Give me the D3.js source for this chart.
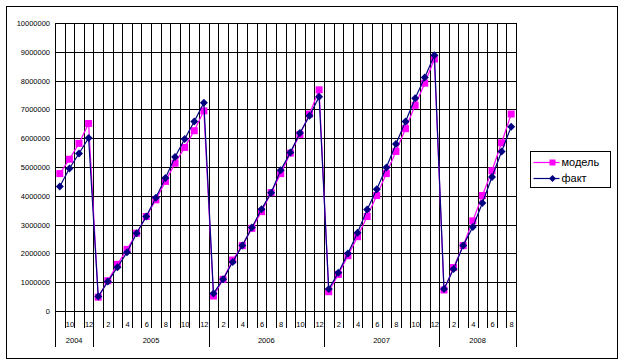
<!DOCTYPE html>
<meta charset="utf-8">
<script src="https://d3js.org/d3.v7.min.js"></script>
<style>
  body { margin: 0; background: #fff; }
  text { font-family: "Liberation Sans", Arial, sans-serif; }
</style>
<div id="chart"></div>
<script>
  // months of each category (Sep 2004 .. Aug 2008)
  var months = [9, 10, 11, 12,
    1, 2, 3, 4, 5, 6, 7, 8, 9, 10, 11, 12,
    1, 2, 3, 4, 5, 6, 7, 8, 9, 10, 11, 12,
    1, 2, 3, 4, 5, 6, 7, 8, 9, 10, 11, 12,
    1, 2, 3, 4, 5, 6, 7, 8];
  var years = ["2004", "2005", "2006", "2007", "2008"];
  var yearLengths = [4, 12, 12, 12, 8];

  var model = [4770000, 5270000, 5820000, 6510000,
    480000, 1050000, 1620000, 2140000, 2700000, 3280000, 3860000, 4500000, 5130000, 5680000, 6260000, 6950000,
    520000, 1100000, 1770000, 2270000, 2870000, 3450000, 4110000, 4770000, 5480000, 6130000, 6840000, 7680000,
    670000, 1270000, 1920000, 2580000, 3280000, 4010000, 4770000, 5540000, 6330000, 7140000, 7910000, 8750000,
    730000, 1510000, 2270000, 3130000, 4010000, 4870000, 5840000, 6840000];

  var fact = [4320000, 4950000, 5470000, 6010000,
    500000, 1020000, 1520000, 2040000, 2700000, 3280000, 3930000, 4620000, 5350000, 5970000, 6580000, 7230000,
    610000, 1100000, 1700000, 2270000, 2900000, 3530000, 4110000, 4890000, 5500000, 6180000, 6780000, 7440000,
    760000, 1330000, 2000000, 2720000, 3520000, 4230000, 4980000, 5800000, 6580000, 7390000, 8110000, 8880000,
    760000, 1460000, 2270000, 2920000, 3750000, 4650000, 5540000, 6400000];

  var yTicks = [0, 1000000, 2000000, 3000000, 4000000, 5000000, 6000000, 7000000, 8000000, 9000000, 10000000];

  var W = 624, H = 364;
  var plot = { left: 55, right: 516, top: 23, bottom: 311 };

  var svg = d3.select("#chart").append("svg")
      .attr("width", W).attr("height", H);

  // outer chart border
  svg.append("rect")
      .attr("x", 6.5).attr("y", 6.5)
      .attr("width", 611).attr("height", 352)
      .attr("fill", "#fff").attr("stroke", "#000").attr("stroke-width", 1);

  var idx = d3.range(months.length);
  var x = d3.scaleBand().domain(idx).range([plot.left, plot.right]).padding(0);
  var y = d3.scaleLinear().domain([0, 10000000]).range([plot.bottom, plot.top]);
  var cx = function (i) { return x(i) + x.bandwidth() / 2; };

  // horizontal gridlines + y labels
  var yAxis = d3.axisLeft(y).tickValues(yTicks).tickSize(-(plot.right - plot.left))
      .tickPadding(5).tickFormat(d3.format("d"));
  var gy = svg.append("g").attr("transform", "translate(" + plot.left + ",0)").call(yAxis);
  gy.select(".domain").remove();
  gy.selectAll("line").attr("stroke", "#000").attr("shape-rendering", "crispEdges");
  gy.selectAll("text").attr("font-size", 7.5).attr("fill", "#000");

  // vertical gridlines at category boundaries
  var bounds = d3.range(months.length + 1);
  svg.append("g").selectAll("line")
      .data(bounds)
      .enter().append("line")
      .attr("x1", function (d) { return Math.round(plot.left + d * x.bandwidth()) + 0.5; })
      .attr("x2", function (d) { return Math.round(plot.left + d * x.bandwidth()) + 0.5; })
      .attr("y1", plot.top)
      .attr("y2", function (d) {
        var yearStart = [0, 4, 16, 28, 40, 48].indexOf(d) >= 0;
        return yearStart ? 347 : 328;
      })
      .attr("stroke", "#000");

  // month labels (every other one)
  svg.append("g").selectAll("text")
      .data(idx.filter(function (i) { return i % 2 === 1; }))
      .enter().append("text")
      .attr("x", function (i) { return cx(i) + 0.5; })
      .attr("y", 327)
      .attr("text-anchor", "middle")
      .attr("font-size", 7.5)
      .text(function (i) { return months[i]; });

  // year labels centered under their months
  var starts = [0];
  yearLengths.forEach(function (n, k) { starts.push(starts[k] + n); });
  svg.append("g").selectAll("text")
      .data(years)
      .enter().append("text")
      .attr("x", function (d, k) {
        return (x(starts[k]) + x(starts[k + 1] - 1) + x.bandwidth()) / 2;
      })
      .attr("y", 343)
      .attr("text-anchor", "middle")
      .attr("font-size", 7.5)
      .text(function (d) { return d; });

  var line = d3.line()
      .x(function (d, i) { return cx(i); })
      .y(function (d) { return y(d); });

  // model series
  svg.append("path").datum(model)
      .attr("d", line)
      .attr("fill", "none").attr("stroke", "#FF00FF").attr("stroke-width", 1.2);
  svg.append("g").selectAll("rect")
      .data(model)
      .enter().append("rect")
      .attr("x", function (d, i) { return cx(i) - 3.5; })
      .attr("y", function (d) { return y(d) - 3.5; })
      .attr("width", 7).attr("height", 7)
      .attr("fill", "#FF00FF");

  // fact series
  svg.append("path").datum(fact)
      .attr("d", line)
      .attr("fill", "none").attr("stroke", "#000080").attr("stroke-width", 1.2);
  var diamond = "M0,-4L4,0L0,4L-4,0Z";
  svg.append("g").selectAll("path")
      .data(fact)
      .enter().append("path")
      .attr("d", diamond)
      .attr("transform", function (d, i) { return "translate(" + cx(i) + "," + y(d) + ")"; })
      .attr("fill", "#000080");

  // legend
  var legend = svg.append("g").attr("transform", "translate(530.5,151.5)");
  legend.append("rect")
      .attr("width", 80).attr("height", 36)
      .attr("fill", "#fff").attr("stroke", "#000");
  var legendData = [
    { label: "модель", color: "#FF00FF", marker: "square" },
    { label: "факт", color: "#000080", marker: "diamond" }
  ];
  var items = legend.selectAll(".item")
      .data(legendData)
      .enter().append("g")
      .attr("transform", function (d, i) { return "translate(0," + (11 + i * 16) + ")"; });
  items.append("line")
      .attr("x1", 3).attr("x2", 29).attr("y1", 0).attr("y2", 0)
      .attr("stroke", function (d) { return d.color; }).attr("stroke-width", 1.2);
  items.append("path")
      .attr("d", function (d) {
        return d.marker === "square" ? "M-3,-3H3V3H-3Z" : "M0,-3.5L3.5,0L0,3.5L-3.5,0Z";
      })
      .attr("transform", "translate(22,0)")
      .attr("fill", function (d) { return d.color; });
  items.append("text")
      .attr("x", 31).attr("y", 0)
      .attr("dy", "0.35em")
      .attr("font-size", 11)
      .text(function (d) { return d.label; });
</script>
